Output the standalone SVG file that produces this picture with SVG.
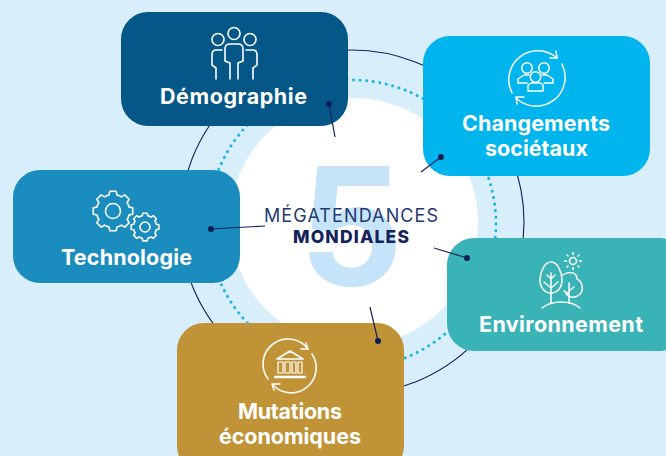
<svg xmlns="http://www.w3.org/2000/svg" width="666" height="456" viewBox="0 0 666 456">
<defs><style>
.lbl{font-family:"Inter","Liberation Sans",sans-serif;font-weight:700;font-size:21.500px;fill:#fff;text-anchor:middle}
.ic{fill:none;stroke:#fff;stroke-width:1.6;stroke-linecap:round;stroke-linejoin:round}
.ln{stroke:#14235a;stroke-width:1.2;fill:none}
.dot{fill:#0d1f55}
</style>
<path id="gear" vector-effect="non-scaling-stroke" d="M16 -4L19.750 -3.130L19.750 3.130L16 4Q15.500 6.500 14.140 8.490L16.180 11.750L11.750 16.180L8.490 14.140Q6.500 15.500 4 16L3.130 19.750L-3.130 19.750L-4 16Q-6.500 15.500 -8.490 14.140L-11.750 16.180L-16.180 11.750L-14.140 8.490Q-15.500 6.500 -16 4L-19.750 3.130L-19.750 -3.130L-16 -4Q-15.500 -6.500 -14.140 -8.490L-16.180 -11.750L-11.750 -16.180L-8.490 -14.140Q-6.500 -15.500 -4 -16L-3.130 -19.750L3.130 -19.750L4 -16Q6.500 -15.500 8.490 -14.140L11.750 -16.180L16.180 -11.750L14.140 -8.490Q15.500 -6.500 16 -4Z"/>
</defs>
<rect width="666" height="456" fill="#d9eefb"/>
<circle cx="354" cy="222" r="124" fill="#fff"/>
<circle cx="352" cy="224" r="144" fill="none" stroke="#1cb6e8" stroke-width="3" stroke-linecap="round" stroke-dasharray="0.1 6.500"/>
<circle cx="352" cy="222" r="172" fill="none" stroke="#14235a" stroke-width="1.100"/>
<text x="351" y="285" font-family="Inter,'Liberation Sans',sans-serif" font-weight="700" font-size="163" fill="#c5e4f9" text-anchor="middle">5</text>
<g id="demographie">
<rect x="121" y="12" width="227" height="114" rx="27" fill="#045787"/>
<g class="ic"><circle cx="234" cy="33.500" r="6"/><circle cx="218" cy="39.500" r="6"/><circle cx="250" cy="39.500" r="6"/>
<path d="M230 79V63L225 61V49Q225 44 230 44H238Q243 44 243 49V61L238 63V79"/>
<path d="M222 50H216Q212 50 212 55V65L216 68V79"/><path d="M246 50H253Q257 50 257 55V65L253 68V79"/></g>
<text class="lbl" x="233.500" y="104" textLength="147" lengthAdjust="spacing">Démographie</text></g>
<g id="changements">
<rect x="423" y="36" width="227" height="140" rx="27" fill="#00b5ee"/>
<g class="ic" style="stroke-width:1.500"><path d="M512 93A29 29 0 0 1 557 58M562 64A29 29 0 0 1 516 98"/><path d="M556 51L557 58H550M524 97H516L517 104"/>
<circle cx="527" cy="68" r="5.200"/><circle cx="544" cy="68" r="5.200"/><circle cx="535.500" cy="77" r="5.200"/>
<path d="M518 83V79L524 75H529M553 83V79L547 75H542M528 91V85L531 83H540L543 85V91H528M518 83H527M544 83H553"/></g>
<text class="lbl" x="536" y="131" textLength="148" lengthAdjust="spacing">Changements</text><text class="lbl" x="536.500" y="156" textLength="103" lengthAdjust="spacing">sociétaux</text></g>
<g id="technologie">
<rect x="13" y="170" width="227" height="113" rx="27" fill="#1a8dbe"/>
<g class="ic"><use href="#gear" transform="translate(113 211)"/><circle cx="113" cy="211" r="7.500"/>
<use href="#gear" transform="translate(145 227) scale(.7)"/><circle cx="145" cy="227" r="5"/></g>
<text class="lbl" x="126.500" y="265" textLength="131" lengthAdjust="spacing">Technologie</text></g>
<g id="environnement">
<rect x="447" y="238" width="240" height="113" rx="27" fill="#3ab3b7"/>
<g class="ic" style="stroke-width:1.500"><path d="M551 262C544 262 540 273 540 280C540 288 545 293 551 293C557 293 562 288 562 280C562 273 558 262 551 262Z"/>
<path d="M551 273V303M551 279L547 275M551 279L555 275M551 288L544 282M551 288L558 282"/>
<path d="M563 275C570 270 577 273 577 279C582 281 585 290 579 295C575 298 570 298 566 294"/><path d="M569 283V303M569 294L564 291M569 291L574 287"/>
<path d="M542 308C552 300 571 300 580 308"/>
<circle cx="573" cy="261" r="3.500"/><path d="M573 252.500V254.500M573 267.500V269.500M564.500 261H566.500M579.500 261H581.500M567 255L568 256M578 266L579 267M579 255L578 256M568 266L567 267"/></g>
<text class="lbl" x="561" y="332" textLength="164" lengthAdjust="spacing">Environnement</text></g>
<g id="mutations">
<rect x="177" y="323" width="227" height="150" rx="27" fill="#c09337"/>
<g class="ic"><path d="M268 379A25 25 0 0 1 308 349M312 354A25 25 0 0 1 273 385"/><path d="M306 343L308 349H301M280 384H272L274 390" style="stroke-width:1.500"/>
<path d="M277 359L290 351L303 359Z"/><path d="M278 362V373H283V362ZM285 362V373H290V362ZM292 362V373H296V362ZM298 362V373H302V362Z" style="stroke-width:1.200"/><path d="M275 377H305" style="stroke-width:2.500"/></g>
<text class="lbl" x="290" y="419" textLength="104" lengthAdjust="spacing">Mutations</text><text class="lbl" x="290" y="444" textLength="142" lengthAdjust="spacing">économiques</text></g>
<g id="connecteurs">
<path class="ln" d="M329 104L335 137M441 157L421 172M211 229L265 226M467 258L434 248M378 341L370 307"/>
<circle class="dot" cx="329" cy="104" r="3"/><circle class="dot" cx="441" cy="157" r="3"/><circle class="dot" cx="211" cy="229" r="3"/><circle class="dot" cx="467" cy="258" r="3"/><circle class="dot" cx="378" cy="341" r="3"/>
</g>
<g id="centre"><text x="351" y="222" font-family="Inter,'Liberation Sans',sans-serif" font-size="18" fill="#1f3a70" text-anchor="middle" textLength="174" lengthAdjust="spacing">MÉGATENDANCES</text>
<text x="351" y="242.500" font-family="Inter,'Liberation Sans',sans-serif" font-weight="800" font-size="17.500" fill="#14235a" text-anchor="middle" textLength="116" lengthAdjust="spacing">MONDIALES</text></g>
</svg>
